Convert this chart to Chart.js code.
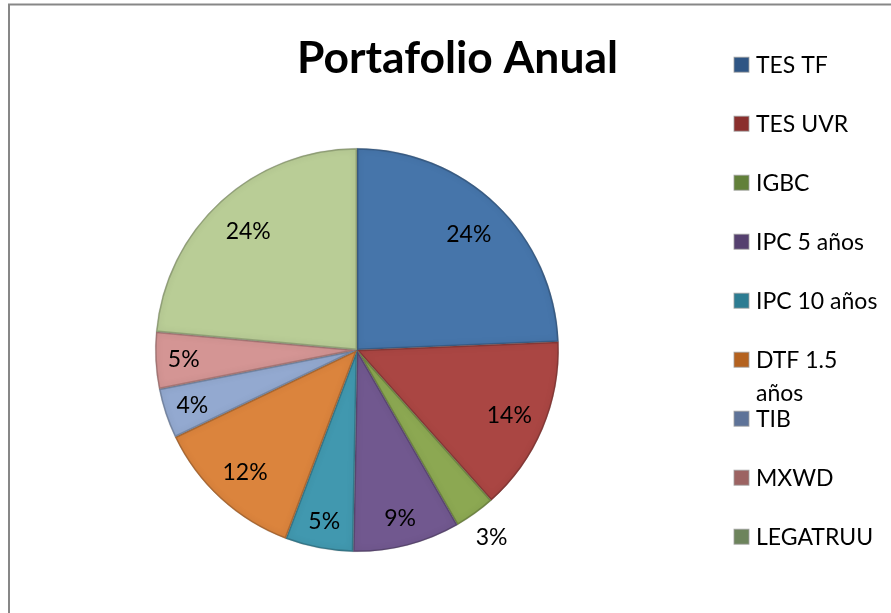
<!DOCTYPE html>
<html>
<head>
<meta charset="utf-8">
<script src="https://cdn.jsdelivr.net/npm/chart.js@4.4.1/dist/chart.umd.min.js"></script>
<style>
  html, body { margin: 0; padding: 0; background: #fff; }
  canvas { display: block; }
</style>
</head>
<body>
<canvas id="pie" width="891" height="613"></canvas>
<script>
// datos del portafolio (porcentajes)
const titulo = 'Portafolio Anual';
const activos = ['TES TF', 'TES UVR', 'IGBC', 'IPC 5 años', 'IPC 10 años', 'DTF 1.5 años', 'TIB', 'MXWD', 'LEGATRUU'];
const pesos = [24.35, 14.05, 3.3, 8.6, 5.45, 12.15, 4.0, 4.55, 23.55];
const leyenda = [['TES TF'], ['TES UVR'], ['IGBC'], ['IPC 5 años'], ['IPC 10 años'], ['DTF 1.5', 'años'], ['TIB'], ['MXWD'], ['LEGATRUU']];
const colores = ['#4675AA', '#AA4643', '#8CA852', '#71588F', '#4198AF', '#DB843D', '#93A9D0', '#D49594', '#B9CD96'];
const coloresLeyenda = ['#2F5584', '#8A2F2D', '#62803A', '#55406F', '#2D7C92', '#B4621F', '#5E7398', '#9C6362', '#6D845C'];

const FONT = 'Lato, "Open Sans", sans-serif';

const marco = {
  id: 'marco',
  beforeDraw(chart) {
    const ctx = chart.ctx;
    ctx.save();
    ctx.fillStyle = '#fff';
    ctx.fillRect(0, 0, chart.width, chart.height);
    ctx.strokeStyle = '#878787';
    ctx.lineWidth = 2;
    ctx.strokeRect(9, 4.5, 1200, 1200);
    ctx.restore();
  }
};

// sombreado interior de cada porción
const bisel = {
  id: 'bisel',
  afterDatasetsDraw(chart) {
    const ctx = chart.ctx;
    chart.getDatasetMeta(0).data.forEach(arc => {
      const { x, y, startAngle, endAngle, outerRadius } = arc.getProps(['x', 'y', 'startAngle', 'endAngle', 'outerRadius'], true);
      ctx.save();
      ctx.beginPath();
      ctx.moveTo(x, y);
      ctx.arc(x, y, outerRadius, startAngle, endAngle);
      ctx.closePath();
      ctx.clip();
      ctx.shadowColor = 'rgba(0,0,0,0.45)';
      ctx.shadowBlur = 7;
      ctx.strokeStyle = 'rgba(0,0,0,0.18)';
      ctx.lineWidth = 3;
      ctx.stroke();
      ctx.restore();
    });
  }
};

const etiquetas = {
  id: 'etiquetas',
  afterDraw(chart) {
    const ctx = chart.ctx;
    const datos = chart.data.datasets[0].data;
    const total = datos.reduce((a, b) => a + b, 0);
    ctx.save();
    ctx.font = '23px ' + FONT;
    ctx.fillStyle = '#000';
    ctx.textAlign = 'center';
    ctx.textBaseline = 'middle';
    chart.getDatasetMeta(0).data.forEach((arc, i) => {
      const { x, y, startAngle, endAngle, outerRadius } = arc.getProps(['x', 'y', 'startAngle', 'endAngle', 'outerRadius'], true);
      const pct = datos[i] / total * 100;
      const mid = (startAngle + endAngle) / 2;
      let f = 0.86;
      if (pct < 4) f = 1.14;
      else if (pct > 20) f = 0.80;
      else if (pct > 10) f = 0.82;
      const r = outerRadius * f;
      ctx.fillText(Math.round(pct) + '%', x + Math.cos(mid) * r, y + Math.sin(mid) * r + 1);
    });

    // título
    ctx.font = 'bold 44.4px ' + FONT;
    ctx.textBaseline = 'alphabetic';
    ctx.fillText(titulo, 457.5, 73);

    // leyenda
    ctx.font = '23px ' + FONT;
    ctx.textAlign = 'left';
    leyenda.forEach((lineas, i) => {
      const base = 72.7 + i * 59;
      ctx.fillStyle = coloresLeyenda[i];
      ctx.fillRect(734, base - 15.5, 15, 15);
      ctx.strokeStyle = 'rgba(160,160,160,0.8)';
      ctx.lineWidth = 1;
      ctx.strokeRect(734, base - 15.5, 15, 15);
      ctx.fillStyle = '#000';
      lineas.forEach((t, k) => ctx.fillText(t, 756, base + k * 33));
    });
    ctx.restore();
  }
};

new Chart(document.getElementById('pie').getContext('2d'), {
  type: 'pie',
  data: {
    labels: activos,
    datasets: [{
      data: pesos,
      backgroundColor: colores,
      borderColor: 'rgba(90,90,90,0.35)',
      borderWidth: 0.5
    }]
  },
  options: {
    responsive: false,
    animation: false,
    layout: { padding: { left: 155, top: 148, right: 332, bottom: 61 } },
    plugins: {
      legend: { display: false },
      title: { display: false },
      tooltip: { enabled: false }
    }
  },
  plugins: [marco, bisel, etiquetas]
});
</script>
</body>
</html>
